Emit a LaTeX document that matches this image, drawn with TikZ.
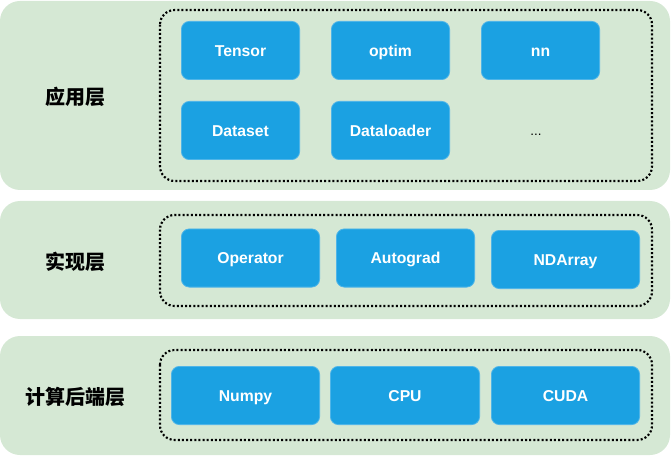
\documentclass[tikz,border=0pt]{standalone}
\usepackage{fontspec}
\setmainfont{Liberation Sans}
\newfontfamily\cjk{Noto Sans CJK SC}
\definecolor{layerbg}{HTML}{D5E8D4}
\definecolor{boxfill}{HTML}{1BA1E2}
\definecolor{boxline}{HTML}{4FB5E8}
\begin{document}
\begin{tikzpicture}[x=0.75pt,y=-0.75pt,
  layer/.style={fill=layerbg,draw=none,rounded corners=15pt},
  group/.style={draw=black,line width=1.6pt,dash pattern=on 1.5pt off 1.6pt,rounded corners=11pt},
  mod/.style={fill=boxfill,draw=boxline,line width=0.6pt,rounded corners=6pt,text=white,
    font=\bfseries\fontsize{11.8}{13}\selectfont,inner sep=0pt,text height=8.5pt,text depth=0pt,
    minimum width=#1*0.75pt-0.6pt,minimum height=59*0.75pt-0.6pt},
  mod/.default=119,
  lab/.style={font=\cjk\bfseries\fontsize{15}{17}\selectfont,text=black}
]
\useasboundingbox (0,0) rectangle (671,456);
% layers
\fill[layer] (0,1) rectangle (670,190);
\fill[layer] (0,201) rectangle (670,319);
\fill[layer] (0,336) rectangle (670,455);
% dotted groups
\draw[group] (160,10) rectangle (652,181);
\draw[group] (160,215) rectangle (652,306);
\draw[group] (160,350) rectangle (652,440);
% labels
\node[lab] (l1) at (75,97) {应用层};
\node[lab] (l2) at (75,262) {实现层};
\node[lab] (l3) at (75,397) {计算后端层};
% layer 1
\node[mod] (tensor) at (240.5,50.5) {Tensor};
\node[mod] (optim) at (390.5,50.5) {optim};
\node[mod] (nn) at (540.5,50.5) {nn};
\node[mod] (dataset) at (240.5,130.5) {Dataset};
\node[mod] (dataloader) at (390.5,130.5) {Dataloader};
\node[font=\fontsize{10}{10}\selectfont,inner sep=0pt,anchor=base] (dots) at (536,136) {...};
% layer 2
\node[mod=139] (operator) at (250.5,258) {Operator};
\node[mod=139] (autograd) at (405.5,258) {Autograd};
\node[mod=149] (ndarray) at (565.5,259.5) {NDArray};
% layer 3
\node[mod=149] (numpy) at (245.5,395.5) {Numpy};
\node[mod=150] (cpu) at (405,395.5) {CPU};
\node[mod=149] (cuda) at (565.5,395.5) {CUDA};
\end{tikzpicture}
\end{document}
